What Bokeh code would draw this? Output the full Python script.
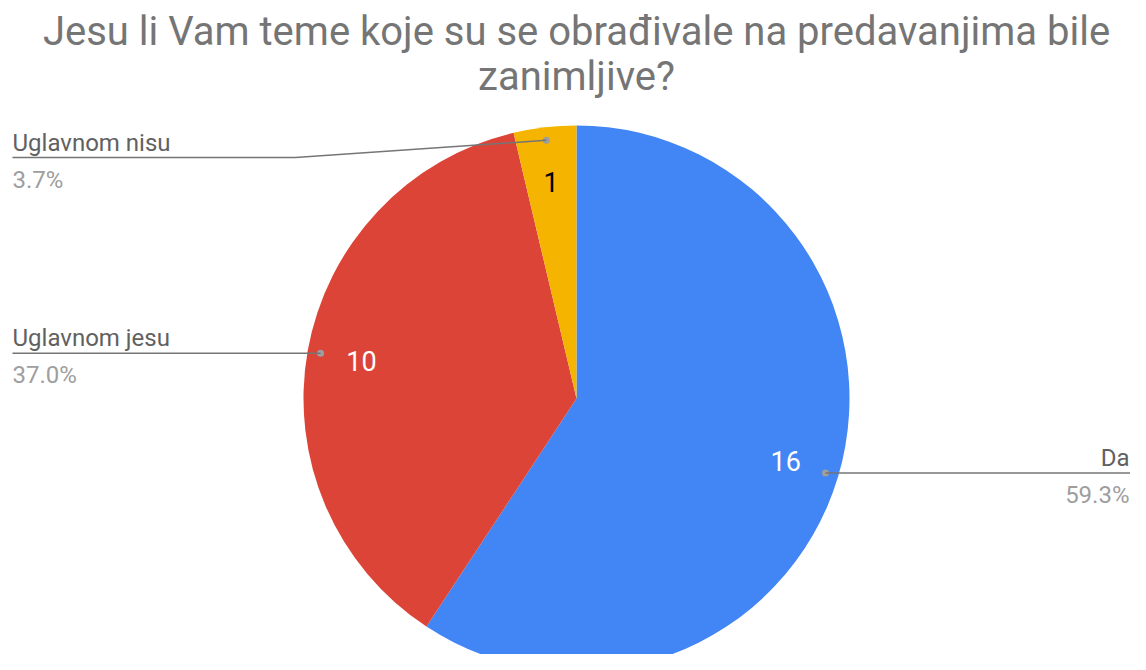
import numpy as np
from bokeh.plotting import figure
from bokeh.models import Range1d
from bokeh.core.properties import value
from bokeh.embed import file_html
from bokeh.resources import INLINE

title_lines = ["Jesu li Vam teme koje su se obrađivale na predavanjima bile", "zanimljive?"]
labels = ["Da", "Uglavnom jesu", "Uglavnom nisu"]
counts = [16, 10, 1]
colors = ["#4285F4", "#DB4437", "#F4B400"]
count_colors = ["#ffffff", "#ffffff", "#000000"]
sides = ["right", "left", "left"]

FONT = value("Roboto")
W, H = 1130, 654


def sy(y):
    return H - y


p = figure(width=W, height=H, x_range=Range1d(0, W), y_range=Range1d(0, H),
           output_backend="svg", toolbar_location=None, min_border=0)
p.axis.visible = False
p.grid.visible = False
p.outline_line_color = None
p.background_fill_color = "white"

cx, cy, R = 576, sy(398), 273
total = sum(counts)
fr = np.array(counts) / total
cum = np.concatenate([[0], np.cumsum(fr)])
start = np.pi / 2 - 2 * np.pi * cum[:-1]
end = np.pi / 2 - 2 * np.pi * cum[1:]
mid = (start + end) / 2

p.wedge(x=cx, y=cy, radius=R, start_angle=start, end_angle=end,
        direction="clock", fill_color=colors, line_color=None)

# inner count labels
r_in = 0.80 * R
p.text(x=cx + r_in * np.cos(mid), y=cy + r_in * np.sin(mid),
       text=[str(c) for c in counts], text_color=count_colors,
       text_font=FONT, text_font_size="27px", text_align="center",
       text_baseline="middle")

# leader lines
r_dot = 0.952 * R
dx = cx + r_dot * np.cos(mid)
dy = cy + r_dot * np.sin(mid)
p.scatter(dx, dy, size=7, color="#9e9e9e", line_color=None)

xs, ys = [], []
name_x, name_y, pct_y, aligns = [], [], [], []
for i in range(len(labels)):
    if i == 2:
        ly = sy(157)
        xs.append([dx[i], 295, 12])
        ys.append([dy[i], ly, ly])
    else:
        ly = dy[i]
        xe = 1140 if sides[i] == "right" else 12
        xs.append([dx[i], xe])
        ys.append([ly, ly])
    name_x.append(1129 if sides[i] == "right" else 12)
    aligns.append("right" if sides[i] == "right" else "left")
    name_y.append(ly + 15)
    pct_y.append(ly - 22)

p.multi_line(xs, ys, line_color="#757575", line_width=1.5)

p.text(x=name_x, y=name_y, text=labels, text_color="#616161", text_font=FONT,
       text_font_size="24px", text_align=aligns, text_baseline="alphabetic")
p.text(x=name_x, y=pct_y, text=[f"{f * 100:.1f}%" for f in fr], text_color="#9e9e9e",
       text_font=FONT, text_font_size="24px", text_align=aligns,
       text_baseline="alphabetic")

# title
p.text(x=[576, 576], y=[sy(31), sy(76)], text=title_lines, text_color="#757575",
       text_font=FONT, text_font_size="40px", text_align="center",
       text_baseline="alphabetic")

open("out.html", "w").write(file_html(p, INLINE))
